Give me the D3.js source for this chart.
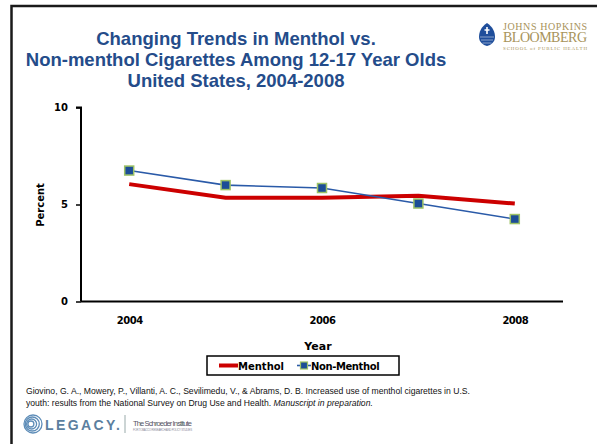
<!DOCTYPE html>
<html>
<head>
<meta charset="utf-8">
<script src="https://cdn.jsdelivr.net/npm/d3@7"></script>
<style>
  body { margin: 0; background: #fff; }
  svg { display: block; font-family: "Liberation Sans", Arial, sans-serif; }
</style>
</head>
<body>
<script>
// data
const years = [2004, 2005, 2006, 2007, 2008];
const menthol = [6.05, 5.35, 5.35, 5.45, 5.05];
const nonMenthol = [6.75, 6.0, 5.85, 5.05, 4.25];
const yTicks = [0, 5, 10];
const xTickYears = [2004, 2006, 2008];
const titleLines = [
    'Changing Trends in Menthol vs.',
    'Non-menthol Cigarettes Among 12-17 Year Olds',
    'United States, 2004-2008'
];
const citation = [
    'Giovino, G. A., Mowery, P., Villanti, A. C., Sevilimedu, V., & Abrams, D. B. Increased use of menthol cigarettes in U.S.',
    'youth: results from the National Survey on Drug Use and Health. '
];

const width = 597;
const height = 444;
const titleColor = '#244c8a';
const red = '#cc0000';
const blue = '#2a5aa8';
const boldFont = '"DejaVu Sans", sans-serif';

const svg = d3.select('body')
    .append('svg')
    .attr('width', width)
    .attr('height', height);

// slide frame
svg.append('rect')
    .attr('x', 11.5).attr('y', 6)
    .attr('width', 600).attr('height', 450)
    .attr('fill', 'none')
    .attr('stroke', '#1a1a1a')
    .attr('stroke-width', 2.5);

// title
svg.append('g')
    .selectAll('text')
    .data(titleLines)
    .enter()
    .append('text')
    .attr('x', 236)
    .attr('y', (d, i) => 45 + i * 21)
    .attr('text-anchor', 'middle')
    .attr('font-size', 18.5)
    .attr('font-weight', 'bold')
    .attr('fill', titleColor)
    .text(d => d);

// scales
const xScale = d3.scaleLinear()
    .domain([2003.5, 2008.5])
    .range([81, 563]);

const yScale = d3.scaleLinear()
    .domain([0, 10])
    .range([301.5, 107.5]);

// y axis
const yAxis = d3.axisLeft(yScale)
    .tickValues(yTicks)
    .tickSize(5)
    .tickPadding(8);

const gy = svg.append('g')
    .attr('transform', 'translate(81, 0)')
    .call(yAxis);
gy.select('.domain').attr('stroke', '#000').attr('stroke-width', 2).attr('d', 'M-5,107.5H0V301.5');
gy.selectAll('.tick line').attr('stroke', '#000').attr('stroke-width', 1.5);
gy.selectAll('.tick text')
    .attr('font-size', 10)
    .attr('font-weight', 'bold')
    .attr('font-family', boldFont)
    .attr('fill', '#000');

// x axis
const xAxis = d3.axisBottom(xScale)
    .tickValues(xTickYears)
    .tickFormat(d3.format('d'))
    .tickSize(0)
    .tickPadding(15);

const gx = svg.append('g')
    .attr('transform', 'translate(0, 301.5)')
    .call(xAxis);
gx.select('.domain').attr('stroke', '#000').attr('stroke-width', 2).attr('d', 'M81,0H563');
gx.selectAll('.tick text')
    .attr('font-size', 10)
    .attr('font-weight', 'bold')
    .attr('font-family', boldFont)
    .attr('letter-spacing', -0.5)
    .attr('fill', '#000');

// axis titles
svg.append('text')
    .attr('transform', 'translate(44, 205) rotate(-90)')
    .attr('text-anchor', 'middle')
    .attr('font-size', 10)
    .attr('font-weight', 'bold')
    .attr('font-family', boldFont)
    .text('Percent');

svg.append('text')
    .attr('x', 318)
    .attr('y', 350)
    .attr('text-anchor', 'middle')
    .attr('font-size', 11)
    .attr('font-weight', 'bold')
    .attr('font-family', boldFont)
    .text('Year');

// lines
const line = d3.line()
    .x((d, i) => xScale(years[i]))
    .y(d => yScale(d));

svg.append('path')
    .datum(menthol)
    .attr('d', line)
    .attr('fill', 'none')
    .attr('stroke', red)
    .attr('stroke-width', 4);

svg.append('path')
    .datum(nonMenthol)
    .attr('d', line)
    .attr('fill', 'none')
    .attr('stroke', blue)
    .attr('stroke-width', 1.6);

svg.append('g')
    .selectAll('rect')
    .data(nonMenthol)
    .enter()
    .append('rect')
    .attr('x', (d, i) => xScale(years[i]) - 4.5)
    .attr('y', d => yScale(d) - 4.5)
    .attr('width', 9)
    .attr('height', 9)
    .attr('fill', '#1c4d97')
    .attr('stroke', '#9dc266')
    .attr('stroke-width', 1.5);

// legend
const legend = svg.append('g');
legend.append('rect')
    .attr('x', 207).attr('y', 356)
    .attr('width', 192).attr('height', 19)
    .attr('fill', '#fff')
    .attr('stroke', '#000')
    .attr('stroke-width', 1.5);
legend.append('line')
    .attr('x1', 219).attr('x2', 238)
    .attr('y1', 365.5).attr('y2', 365.5)
    .attr('stroke', red).attr('stroke-width', 4);
legend.append('text')
    .attr('x', 238).attr('y', 369.5)
    .attr('font-size', 10).attr('font-weight', 'bold')
    .attr('font-family', boldFont)
    .text('Menthol');
legend.append('line')
    .attr('x1', 297).attr('x2', 311)
    .attr('y1', 365.5).attr('y2', 365.5)
    .attr('stroke', blue).attr('stroke-width', 1.6);
legend.append('rect')
    .attr('x', 300.5).attr('y', 362)
    .attr('width', 7).attr('height', 7)
    .attr('fill', '#1c4d97')
    .attr('stroke', '#9dc266')
    .attr('stroke-width', 1.2);
legend.append('text')
    .attr('x', 311).attr('y', 369.5)
    .attr('font-size', 10).attr('font-weight', 'bold')
    .attr('font-family', boldFont)
    .attr('letter-spacing', -0.4)
    .text('Non-Menthol');

// citation
const cite = svg.append('g')
    .attr('font-size', 8.6)
    .attr('fill', '#111');
cite.append('text')
    .attr('x', 26).attr('y', 393.5)
    .text(citation[0]);
const cite2 = cite.append('text')
    .attr('x', 26).attr('y', 405.5)
    .text(citation[1]);
cite2.append('tspan')
    .attr('font-style', 'italic')
    .text('Manuscript in preparation.');

// Johns Hopkins logo
const jh = svg.append('g');
jh.append('path')
    .attr('d', 'M487,23 C481,27 479,32 479,37 C479,42 483,45 487,46 C491,45 495,42 495,37 C495,32 493,27 487,23 Z')
    .attr('fill', '#1f4e9b');
jh.append('path')
    .attr('d', 'M480,37 H494 M481,40 H493 M482.5,43 H491.5')
    .attr('stroke', '#d5dcec').attr('stroke-width', 0.6);
jh.append('path')
    .attr('d', 'M487,27 V34 M484.5,30 H489.5')
    .attr('stroke', '#fff').attr('stroke-width', 1.6);
const jhText = jh.append('text')
    .attr('font-family', '"Liberation Serif", "DejaVu Serif", serif')
    .attr('fill', '#a8935a');
jhText.append('tspan')
    .attr('x', 503).attr('y', 29.5)
    .attr('font-size', 10).attr('textLength', 84)
    .text('JOHNS HOPKINS');
jhText.append('tspan')
    .attr('x', 503).attr('y', 42)
    .attr('font-size', 14).attr('textLength', 84)
    .text('BLOOMBERG');
jhText.append('tspan')
    .attr('x', 503).attr('y', 50)
    .attr('font-size', 5).attr('textLength', 84)
    .text('SCHOOL of PUBLIC HEALTH');

// Legacy logo
const lg = svg.append('g');
[9, 7, 5, 3].forEach((r, i) => {
    lg.append('circle')
        .attr('cx', 33 - i * 0.7).attr('cy', 424)
        .attr('r', r)
        .attr('fill', 'none')
        .attr('stroke', '#5e8db8')
        .attr('stroke-width', 1.3);
});
lg.append('text')
    .attr('x', 45).attr('y', 430)
    .attr('font-size', 14).attr('font-weight', 'bold')
    .attr('fill', '#5c7f9f')
    .attr('textLength', 75)
    .text('LEGACY.');
lg.append('line')
    .attr('x1', 125).attr('x2', 125)
    .attr('y1', 415).attr('y2', 433)
    .attr('stroke', '#9aa');
lg.append('text')
    .attr('x', 133).attr('y', 426)
    .attr('font-size', 7.5)
    .attr('fill', '#556')
    .attr('textLength', 59)
    .text('The Schroeder Institute');
lg.append('text')
    .attr('x', 133).attr('y', 431)
    .attr('font-size', 2.8)
    .attr('fill', '#889')
    .attr('textLength', 59)
    .text('FOR TOBACCO RESEARCH AND POLICY STUDIES');
</script>
</body>
</html>
